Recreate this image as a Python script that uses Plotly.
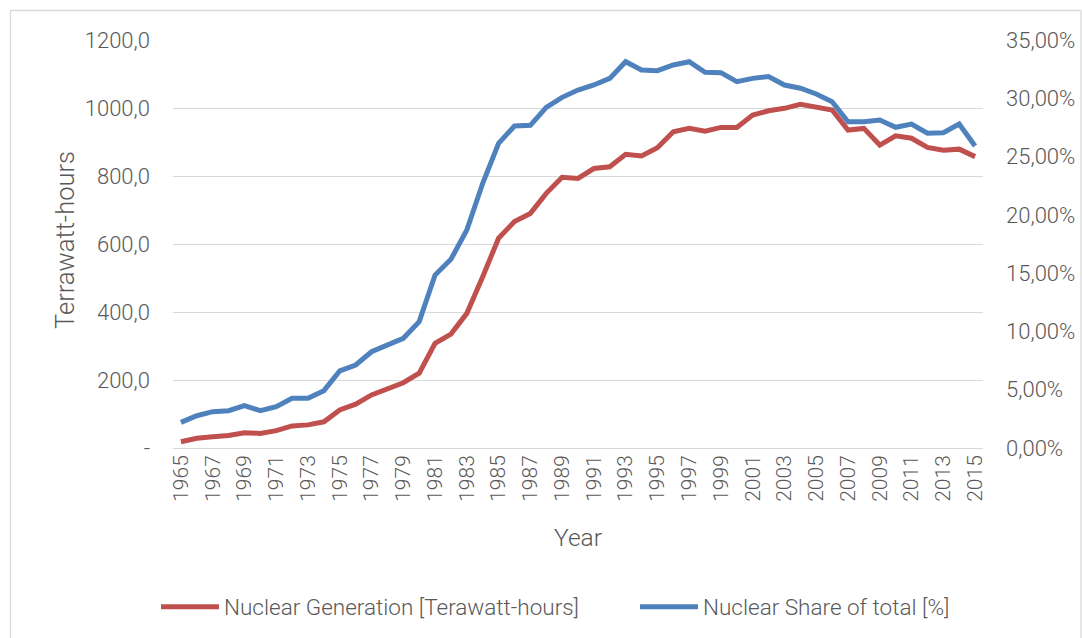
import plotly.graph_objects as go

years = list(range(1965, 2016))
generation_twh = [18.6, 28.4, 33, 37, 45, 43, 51, 65, 68, 77,
                  112, 129, 156, 175, 192, 220, 308, 335, 396, 504,
                  617, 666, 690, 749, 796, 793, 822, 827, 864, 859,
                  883, 930, 940, 932, 943, 943, 979, 992, 999, 1011,
                  1001, 994, 935, 940, 891, 918, 911, 884, 876, 879,
                  857]
share_pct = [2.20, 2.77, 3.12, 3.20, 3.63, 3.20, 3.54, 4.26, 4.26, 4.92,
             6.61, 7.12, 8.26, 8.84, 9.41, 10.84, 14.84, 16.19, 18.70, 22.71,
             26.14, 27.62, 27.68, 29.22, 30.08, 30.71, 31.14, 31.71, 33.14, 32.43,
             32.37, 32.86, 33.14, 32.23, 32.20, 31.43, 31.71, 31.86, 31.14, 30.86,
             30.37, 29.71, 27.99, 27.99, 28.14, 27.51, 27.79, 27.00, 27.05, 27.79,
             25.90]

left_ticks = [0, 200, 400, 600, 800, 1000, 1200]
left_labels = ["-", "200,0", "400,0", "600,0", "800,0", "1000,0", "1200,0"]
right_ticks = [0, 5, 10, 15, 20, 25, 30, 35]
right_labels = ["0,00%", "5,00%", "10,00%", "15,00%", "20,00%", "25,00%", "30,00%", "35,00%"]
year_ticks = list(range(1965, 2016, 2))

FONT = "Roboto, sans-serif"
GRAY = "#595959"
W, H = 1082, 638
L, R, T, B = 173, 99, 40, 190
PW, PH = W - L - R, H - T - B

fig = go.Figure()
fig.add_trace(go.Scatter(x=years, y=generation_twh, mode="lines",
                         name="Nuclear Generation [Terawatt-hours]",
                         line=dict(color="#C0504D", width=5), legend="legend"))
fig.add_trace(go.Scatter(x=years, y=share_pct, mode="lines", yaxis="y2",
                         name="Nuclear Share of total [%]",
                         line=dict(color="#4F81BD", width=5), legend="legend2"))

legend_common = dict(orientation="h", xanchor="left", yanchor="middle",
                     xref="container", yref="container",
                     font=dict(size=22.5, color=GRAY, family=FONT, weight=300),
                     itemwidth=58, bgcolor="rgba(0,0,0,0)")

fig.update_layout(
    width=W, height=H,
    margin=dict(l=L, r=R, t=T, b=B, autoexpand=False),
    paper_bgcolor="white", plot_bgcolor="white",
    font=dict(family=FONT, color=GRAY, size=22, weight=300),
    showlegend=True,
    legend=dict(x=156 / W, y=(H - 607) / H, **legend_common),
    legend2=dict(x=635 / W, y=(H - 607) / H, **legend_common),
    xaxis=dict(range=[1964.5, 2015.5], tickvals=year_ticks, tickangle=-90,
               showgrid=False, zeroline=False, showline=False, automargin=False,
               tickfont=dict(size=21, color=GRAY, weight=300), ticks="",
               ticklabelstandoff=2),
    yaxis=dict(range=[0, 1200], tickvals=left_ticks, ticktext=left_labels,
               showgrid=True, gridcolor="#D9D9D9", gridwidth=1.3, zeroline=True,
               zerolinecolor="#D9D9D9", zerolinewidth=1.3, automargin=False,
               tickfont=dict(size=22, color=GRAY, weight=300), ticklabelstandoff=22),
    yaxis2=dict(range=[0, 35], tickvals=right_ticks, ticktext=right_labels,
                overlaying="y", side="right", showgrid=False, zeroline=False,
                automargin=False,
                tickfont=dict(size=22, color=GRAY, weight=300), ticklabelstandoff=22),
    annotations=[
        dict(text="Terrawatt-hours", xref="paper", yref="paper",
             x=(65 - L) / PW, y=(448 - 240) / PH, textangle=-90,
             xanchor="center", yanchor="middle",
             showarrow=False, font=dict(size=25.5, color=GRAY, weight=300)),
        dict(text="Year", xref="paper", yref="paper",
             x=(578 - L) / PW, y=(448 - 537) / PH,
             xanchor="center", yanchor="middle",
             showarrow=False, font=dict(size=24.5, color=GRAY, weight=300)),
    ],
    shapes=[
        dict(type="rect", xref="paper", yref="paper",
             x0=(10.5 - L) / PW, x1=(1081 - L) / PW,
             y0=(448 - 660) / PH, y1=(448 - 10.5) / PH,
             line=dict(color="#D9D9D9", width=1.3), layer="below"),
    ],
)

fig.write_html("out.html", config={"displayModeBar": False},
               post_script="document.body.style.margin='0';")
